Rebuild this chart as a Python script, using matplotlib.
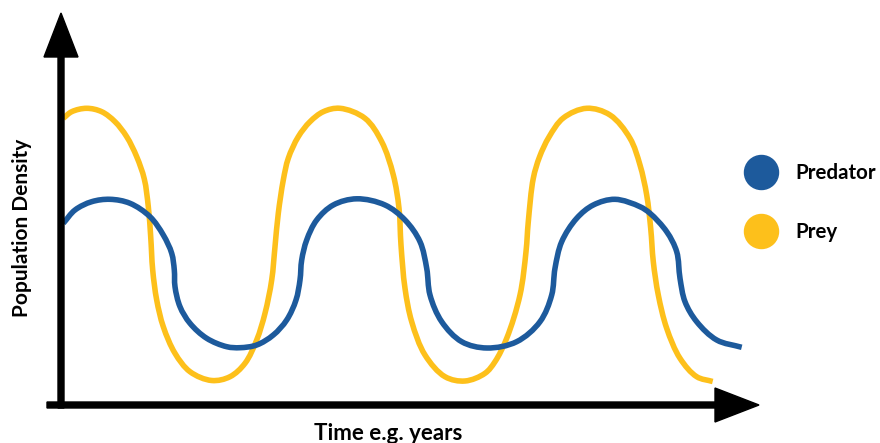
import matplotlib
matplotlib.use("Agg")
import numpy as np
import matplotlib.pyplot as plt
from matplotlib.lines import Line2D
from matplotlib.path import Path
from matplotlib.patches import PathPatch

# ---- data (time and density in pixel-like units from the origin) ----
prey_time = [2.3, 10.7, 25.7, 40.7, 54, 65.7, 75.7, 83.3, 87.3, 89.7, 91.7, 95.7, 102.3,
             114, 129, 150.7, 169, 184, 195.7, 204, 210.7, 214, 217.3, 222.3, 227.3, 237.3,
             249, 262.3, 279, 304, 320.7, 332.3, 338, 340, 344, 350.7, 364, 384, 404, 424,
             434, 445.7, 459, 465, 467.3, 472.3, 478.5, 488, 502.3, 525.7, 549, 569, 579,
             585.7, 589.7, 592.3, 597.3, 605.7, 619, 635.7, 651.7]
prey_density = [286.7, 293.3, 296.7, 293.3, 283.3, 268.3, 248.3, 226, 198.3, 168.3, 135,
                105, 78.3, 51.7, 33.3, 24.5, 28.3, 41.7, 65, 91.7, 125, 158.3, 191.7, 225,
                246.7, 268.3, 283.3, 293.3, 296.7, 286.7, 263.3, 230, 196.7, 160, 116.7,
                83.3, 50, 28.3, 24, 31.7, 43.3, 66.7, 110, 153.3, 183.3, 226.7, 248, 268,
                287, 296.7, 290, 266.7, 240, 210, 176.7, 143.3, 110, 76.7, 46.7, 28.3, 23.5]

predator_time = [2.3, 14, 30.7, 49, 69, 89, 102.3, 110.7, 113.3, 114, 119, 129, 145.7,
                 165.7, 179, 195.7, 212.3, 225.7, 235, 239, 240.7, 245.7, 255.7, 272.3,
                 295.7, 324, 344, 359, 365.7, 369, 380.7, 400.7, 426, 455.7, 479, 490.7,
                 494, 500.7, 515.7, 532.3, 554, 579, 589, 605.7, 615.7, 619, 624, 635.7,
                 655.7, 680.7]
predator_density = [181.7, 195, 203.3, 205.7, 201.7, 188.3, 170, 151.7, 135, 118.3, 98.3,
                    81.7, 66.7, 58.3, 57.3, 60, 70, 85, 105, 125, 145, 165, 185, 200, 206.2,
                    200, 185, 163.3, 136.7, 110, 83.3, 63.3, 57, 63.3, 83.3, 110, 136.7,
                    163.3, 186.7, 200, 205.7, 198.3, 191.7, 173.3, 153.3, 126.7, 103.3, 83.3,
                    65, 57.7]

series_labels = ["Predator", "Prey"]
x_label = "Time e.g. years"
y_label = "Population Density"

PRED_COLOR = "#1d5a9c"
PREY_COLOR = "#fdc01b"
FONT = ["Lato", "DejaVu Sans"]


def smooth_path(xs, ys, alpha=0.5):
    """Smooth curve through the read points (centripetal Catmull-Rom as cubic Bezier)."""
    p = np.column_stack([xs, ys]).astype(float)
    ext = np.vstack([2 * p[0] - p[1], p, 2 * p[-1] - p[-2]])
    verts = [p[0]]
    codes = [Path.MOVETO]
    for i in range(1, len(ext) - 2):
        p0, p1, p2, p3 = ext[i - 1], ext[i], ext[i + 1], ext[i + 2]
        d01 = max(np.linalg.norm(p1 - p0) ** alpha, 1e-6)
        d12 = max(np.linalg.norm(p2 - p1) ** alpha, 1e-6)
        d23 = max(np.linalg.norm(p3 - p2) ** alpha, 1e-6)
        m1 = d12 * ((p1 - p0) / d01 - (p2 - p0) / (d01 + d12) + (p2 - p1) / d12)
        m2 = d12 * ((p2 - p1) / d12 - (p3 - p1) / (d12 + d23) + (p3 - p2) / d23)
        verts += [p1 + m1 / 3.0, p2 - m2 / 3.0, p2]
        codes += [Path.CURVE4] * 3
    return Path(verts, codes)


W, H = 880, 443
fig = plt.figure(figsize=(W / 100, H / 100), dpi=100)
ax = fig.add_axes([0, 0, 1, 1])
# one data unit == one pixel in both directions; origin of the chart at pixel (61, 405)
ax.set_xlim(-61, W - 61)
ax.set_ylim(405 - H, 405)
ax.axis("off")

lw = 4.0
ax.add_patch(PathPatch(smooth_path(prey_time, prey_density), fill=False,
                       edgecolor=PREY_COLOR, lw=lw, capstyle="butt", joinstyle="round",
                       zorder=2))
ax.add_patch(PathPatch(smooth_path(predator_time, predator_density), fill=False,
                       edgecolor=PRED_COLOR, lw=lw, capstyle="butt", joinstyle="round",
                       zorder=3))

# axes arrows
ax.arrow(0, -3, 0, 395, width=6, head_width=34, head_length=44,
         length_includes_head=True, color="black", zorder=4)
ax.arrow(-14, 0, 712, 0, width=6, head_width=34, head_length=44,
         length_includes_head=True, color="black", zorder=4)

fig.text(388 / W, 1 - 433 / H, x_label, ha="center", va="center",
         fontsize=16, fontweight="bold", family=FONT)
fig.text(22 / W, 1 - 228 / H, y_label, ha="center", va="center", rotation=90,
         fontsize=15, fontweight="bold", family=FONT)

handles = [Line2D([], [], ls="none", marker="o", markersize=24.5, color=PRED_COLOR),
           Line2D([], [], ls="none", marker="o", markersize=24.5, color=PREY_COLOR)]
ax.legend(handles, series_labels, loc="center left",
          bbox_to_anchor=(748.7 / W, 1 - 202.5 / H), bbox_transform=fig.transFigure,
          frameon=False, borderpad=0, borderaxespad=0, handlelength=1.2,
          handletextpad=1.06, labelspacing=1.9,
          prop={"family": FONT, "weight": "bold", "size": 14.8})

fig.savefig("out.png", dpi=100)
